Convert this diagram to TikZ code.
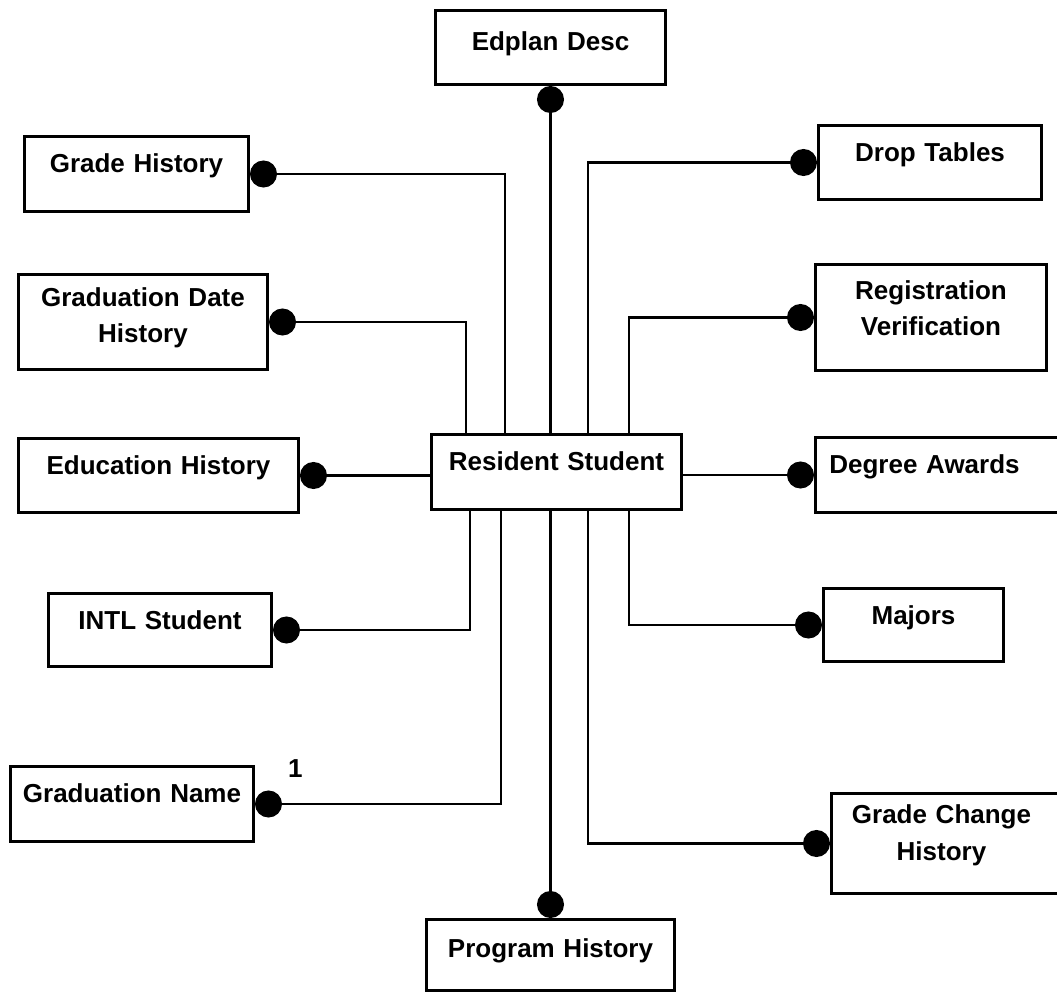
\documentclass[tikz,border=0pt]{standalone}
\usepackage{fontspec}
\setmainfont{Liberation Sans}
\usepackage{tikz}
\usetikzlibrary{arrows.meta}
\tikzset{
  ent/.style 2 args={draw, line width=3pt, anchor=north west, inner sep=0pt, text width=#1pt, text height=36pt, text depth=#2pt, align=center, font=\bfseries\fontsize{26pt}{36.5pt}\selectfont},
  rel/.style={-{Circle[length=27pt]}, line width=2.6pt},
  card/.style={anchor=base, inner sep=0pt, font=\bfseries\fontsize{26pt}{36.5pt}\selectfont}
}

\begin{document}
\begin{tikzpicture}[x=1pt,y=1pt]
    \useasboundingbox (0,0) rectangle (1057,991);
    % Centre entity
    \node[ent={250}{39}] (rs) at (430,558) {Resident Student};
    % Top and bottom
    \node[ent={230}{34}, text height=40pt] (ed) at (434,982) {Edplan Desc};
    \node[ent={248}{33}, text height=38pt] (ph) at (425,73) {Program History};
    % Left column
    \node[ent={224}{39}] (gh) at (23,856) {Grade History};
    \node[ent={249}{63}, text height=32pt] (gd) at (17,718) {Graduation Date\\History};
    \node[ent={280}{38}] (eh) at (17,554) {Education History};
    \node[ent={223}{37}] (it) at (47,399) {INTL Student};
    \node[ent={243}{39}] (gn) at (9,226) {Graduation Name};
    % Right column (boxes run past the page edge)
    \node[ent={223}{38}] (dt) at (817,867) {Drop Tables};
    \node[ent={231}{71}, text height=35pt] (rv) at (814,728) {Registration\\Verification};
    \node[ent={256}{39}, align=left] (da) at (814,555) {\makebox[218pt]{Degree Awards}};
    \node[ent={180}{37}] (mj) at (822,404) {Majors};
    \node[ent={240}{70}, align=left, text height=30pt] (gc) at (830,199) {\makebox[220pt]{Grade Change}\\\makebox[220pt]{History}};
    % Relationships above
    \draw[rel] (ed.south |- rs.north) -- (ed.south);
    \draw[rel] ([xshift=75pt]rs.north west) |- (gh.east);
    \draw[rel] ([xshift=36pt]rs.north west) |- (gd.east);
    \draw[rel] ([xshift=158pt]rs.north west) |- (dt.west);
    \draw[rel] ([xshift=199pt]rs.north west) |- (rv.west);
    % Relationships at the sides
    \draw[rel] (rs.west |- eh.east) -- (eh.east);
    \draw[rel] (rs.east |- da.west) -- (da.west);
    % Relationships below
    \draw[rel] (ph.north |- rs.south) -- (ph.north);
    \draw[rel] ([xshift=40pt]rs.south west) |- (it.east);
    \draw[rel] ([xshift=71pt]rs.south west) |- (gn.east) node[card, pos=0.918, yshift=27pt] (one) {1};
    \draw[rel] ([xshift=158pt]rs.south west) |- (gc.west);
    \draw[rel] ([xshift=199pt]rs.south west) |- (mj.west);
\end{tikzpicture}
\end{document}
